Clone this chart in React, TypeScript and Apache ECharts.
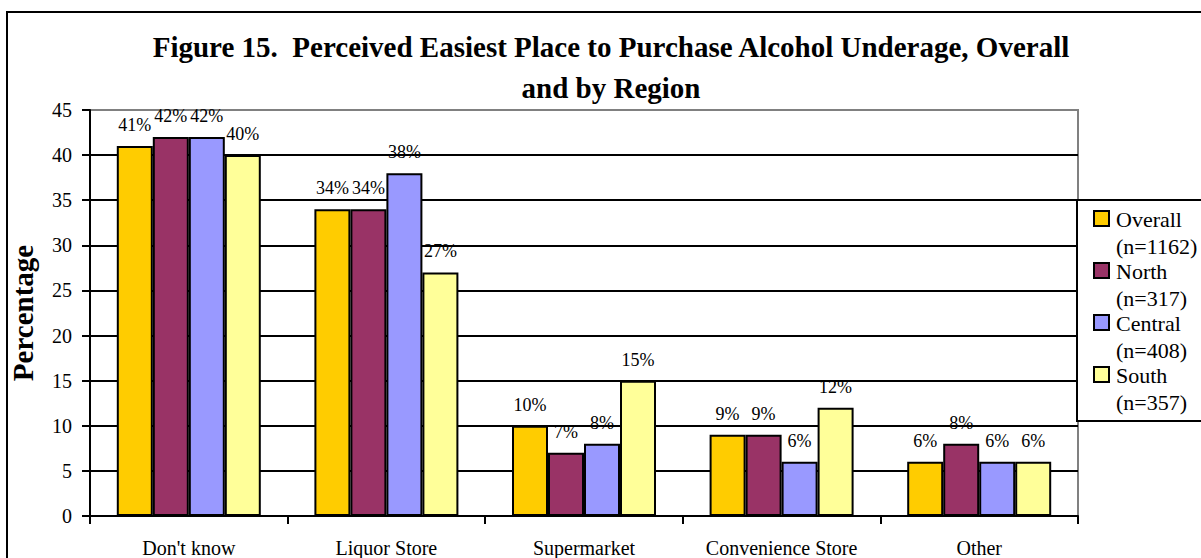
import React, { useEffect, useRef } from "react";
import * as echarts from "echarts";

const categories = ["Don't know", "Liquor Store", "Supermarket", "Convenience Store", "Other"];
const seriesNames = ["Overall", "North", "Central", "South"];
const sampleSizes = ["(n=1162)", "(n=317)", "(n=408)", "(n=357)"];
const overall = [41, 34, 10, 9, 6];
const north = [42, 34, 7, 9, 8];
const central = [42, 38, 8, 6, 6];
const south = [40, 27, 15, 12, 6];
const yTicks = { min: 0, max: 45, interval: 5 };
const titleText = "Figure 15.  Perceived Easiest Place to Purchase Alcohol Underage, Overall\nand by Region";
const yAxisName = "Percentage";

const colors = ["#FFCC00", "#993366", "#9999FF", "#FFFF99"];
const FONT = "'Liberation Serif', 'Times New Roman', serif";

export default function App() {
  const ref = useRef<HTMLDivElement>(null);
  useEffect(() => {
    document.body.style.margin = "0";
    if (!ref.current) return;
    const chart = echarts.init(ref.current, undefined, { renderer: "svg" });
    const values = [overall, north, central, south];
    const series = seriesNames.map((name, i) => ({
      name,
      type: "bar",
      data: values[i],
      barWidth: 36,
      barGap: "0%",
      itemStyle: { color: colors[i], borderColor: "#000", borderWidth: 2 },
      label: {
        show: true,
        position: "top",
        distance: 12,
        formatter: "{c}%",
        fontFamily: FONT,
        fontSize: 18,
        color: "#000",
      },
    }));
    const legendGraphics: any[] = [
      {
        type: "rect",
        shape: { x: 1077, y: 200, width: 200, height: 221 },
        style: { fill: "#fff", stroke: "#000", lineWidth: 2 },
        z: 100,
      },
    ];
    seriesNames.forEach((name, i) => {
      legendGraphics.push({
        type: "rect",
        shape: { x: 1094, y: 211 + 52 * i, width: 15, height: 15 },
        style: { fill: colors[i], stroke: "#000", lineWidth: 2 },
        z: 101,
      });
      legendGraphics.push({
        type: "text",
        x: 1116,
        y: 219 + 52 * i,
        style: { text: name, font: `22px ${FONT}`, fill: "#000", verticalAlign: "middle" },
        z: 101,
      });
      legendGraphics.push({
        type: "text",
        x: 1116,
        y: 246 + 52 * i,
        style: { text: sampleSizes[i], font: `22px ${FONT}`, fill: "#000", verticalAlign: "middle" },
        z: 101,
      });
    });
    chart.setOption({
      animation: false,
      backgroundColor: "#fff",
      title: {
        text: titleText,
        left: 611,
        textAlign: "center",
        top: 26,
        padding: 0,
        textStyle: { fontFamily: FONT, fontSize: 29, fontWeight: "bold", color: "#000", lineHeight: 41 },
      },
      grid: {
        left: 88,
        right: 123,
        top: 110,
        bottom: 42,
        show: true,
        borderColor: "#808080",
        borderWidth: 2,
      },
      xAxis: {
        type: "category",
        data: categories,
        axisLine: { lineStyle: { color: "#000", width: 2 } },
        axisTick: { show: true, length: 8, lineStyle: { color: "#000", width: 2 } },
        axisLabel: { fontFamily: FONT, fontSize: 20, color: "#000", margin: 22, interval: 0 },
      },
      yAxis: {
        type: "value",
        min: yTicks.min,
        max: yTicks.max,
        interval: yTicks.interval,
        name: yAxisName,
        nameLocation: "middle",
        nameGap: 53,
        nameTextStyle: { fontFamily: FONT, fontSize: 29, fontWeight: "bold", color: "#000" },
        axisLine: { show: true, lineStyle: { color: "#000", width: 2 } },
        axisTick: { show: true, length: 8, lineStyle: { color: "#000", width: 2 } },
        axisLabel: { fontFamily: FONT, fontSize: 20, color: "#000", margin: 18 },
        splitLine: { show: true, showMaxLine: false, lineStyle: { color: "#000", width: 2 } },
      },
      series,
      graphic: [
        {
          type: "rect",
          shape: { x: 7, y: 12, width: 1400, height: 800 },
          style: { fill: "none", stroke: "#000", lineWidth: 2 },
          z: 50,
          silent: true,
        },
        ...legendGraphics,
      ],
    });
    return () => chart.dispose();
  }, []);
  return <div ref={ref} style={{ width: 1201, height: 558 }} />;
}
